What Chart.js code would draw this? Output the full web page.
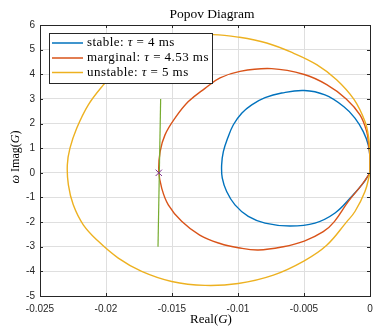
<!DOCTYPE html>
<html>
<head>
<meta charset="utf-8">
<script src="https://cdn.jsdelivr.net/npm/chart.js@4"></script>
<style>
  body { margin: 0; background: #fff; }
  canvas { display: block; }
</style>
</head>
<body>
<canvas id="popov" width="380" height="327"></canvas>
<script>
// series: Re(G) and w*Im(G)
const seriesNames = ['stable', 'marginal', 'unstable'];
const tauValues = ['4', '4.53', '5'];

const stableRe = [0, 0, -0.00013, -0.00051, -0.00114, -0.00202, -0.00341, -0.00498, -0.00669, -0.00795, -0.00896, -0.00972, -0.01035, -0.01078, -0.01111, -0.01124, -0.01119, -0.01086, -0.01023, -0.00922, -0.00795, -0.00606, -0.00417, -0.00265, -0.00139, -0.00051, 0];
const stableIm = [0, 0.6, 1.13, 1.67, 2.22, 2.7, 3.16, 3.34, 3.24, 3.05, 2.76, 2.42, 1.95, 1.41, 0.86, 0.32, -0.22, -0.76, -1.30, -1.77, -2.04, -2.16, -2.04, -1.63, -0.96, -0.42, 0];

const marginalRe = [0, 0, -0.0001, -0.00025, -0.00076, -0.0018, -0.00328, -0.00498, -0.00745, -0.00985, -0.01136, -0.0125, -0.01376, -0.01477, -0.01553, -0.0159, -0.016, -0.01578, -0.01528, -0.01427, -0.0129, -0.01136, -0.00998, -0.00846, -0.00657, -0.00498, -0.00354, -0.0027, -0.00164, -0.00063, 0];
const marginalIm = [0, 0.6, 1.13, 1.67, 2.35, 3.0, 3.58, 3.99, 4.23, 4.12, 3.85, 3.43, 2.89, 2.22, 1.54, 0.86, 0.05, -0.62, -1.30, -1.97, -2.53, -2.87, -3.04, -3.13, -3.0, -2.77, -2.39, -1.98, -1.16, -0.49, 0];

const unstableRe = [0, 0, -0.0001, -0.00038, -0.0012, -0.00253, -0.00404, -0.00581, -0.00783, -0.01, -0.01187, -0.0138, -0.0158, -0.0177, -0.0192, -0.0202, -0.02134, -0.02222, -0.02273, -0.02293, -0.02285, -0.02248, -0.02172, -0.02058, -0.01907, -0.0173, -0.01502, -0.0125, -0.00998, -0.00732, -0.00498, -0.00328, -0.00177, -0.00114, -0.00038, 0];
const unstableIm = [0, 0.6, 1.42, 2.08, 2.97, 3.78, 4.39, 4.86, 5.27, 5.51, 5.61, 5.55, 5.25, 4.75, 4.15, 3.57, 2.76, 1.81, 1.0, 0.32, -0.49, -1.30, -2.11, -2.78, -3.46, -4.0, -4.41, -4.57, -4.49, -4.15, -3.57, -2.94, -1.99, -1.57, -0.76, 0];

// Popov line and critical point
const popovRe = [-0.01606, -0.01586];
const popovIm = [-3, 3];
const critRe = [-0.016];
const critIm = [0];

const xTickValues = [-0.025, -0.02, -0.015, -0.01, -0.005, 0];
const xTickLabels = ['-0.025', '-0.02', '-0.015', '-0.01', '-0.005', '0'];
const yTickValues = [-5, -4, -3, -2, -1, 0, 1, 2, 3, 4, 5, 6];
const yTickLabels = ['-5', '-4', '-3', '-2', '-1', '0', '1', '2', '3', '4', '5', '6'];

const colors = ['#0072BD', '#D95319', '#EDB120'];
const SERIF = "'Liberation Serif', 'Times New Roman', serif";
const SANS = "'Liberation Sans', Arial, sans-serif";

function toPoints(re, im) {
    return re.map((v, i) => ({ x: v, y: im[i] }));
}

// draw text made of normal / italic pieces
function richText(ctx, parts, x, y, size, align, spacing) {
    const fontOf = it => (it ? 'italic ' : '') + size + 'px ' + SERIF;
    ctx.letterSpacing = (spacing || 0) + 'px';
    let w = 0;
    parts.forEach(p => { ctx.font = fontOf(p[1]); w += ctx.measureText(p[0]).width; });
    let cx = align === 'center' ? x - w / 2 : x;
    ctx.textAlign = 'left';
    parts.forEach(p => {
        ctx.font = fontOf(p[1]);
        ctx.fillText(p[0], cx, y);
        cx += ctx.measureText(p[0]).width;
    });
    ctx.letterSpacing = '0px';
}

const curves = [[stableRe, stableIm], [marginalRe, marginalIm], [unstableRe, unstableIm]];
const datasets = curves.map((c, i) => ({
    label: `${seriesNames[i]}: τ = ${tauValues[i]} ms`,
    data: toPoints(c[0], c[1]),
    showLine: true,
    borderColor: colors[i],
    borderWidth: 1.4,
    pointRadius: 0,
    tension: 0.4,
    order: 4 - i
}));
datasets.push({
    label: 'Popov line',
    data: toPoints(popovRe, popovIm),
    showLine: true,
    borderColor: '#77AC30',
    borderWidth: 1.2,
    pointRadius: 0,
    order: 1
});
datasets.push({
    label: 'critical',
    data: toPoints(critRe, critIm),
    showLine: false,
    pointStyle: 'crossRot',
    pointRadius: 4.5,
    borderColor: '#7E2F8E',
    borderWidth: 1,
    order: 0
});

const frame = {
    id: 'frame',
    afterDraw(chart) {
        const { ctx, chartArea: a, scales: { x, y } } = chart;
        ctx.save();
        ctx.strokeStyle = '#262626';
        ctx.lineWidth = 1;
        ctx.strokeRect(a.left + 0.5, a.top + 0.5, a.right - a.left, a.bottom - a.top);
        ctx.beginPath();
        xTickValues.forEach(v => {
            const px = Math.round(x.getPixelForValue(v)) + 0.5;
            ctx.moveTo(px, a.bottom); ctx.lineTo(px, a.bottom - 3);
            ctx.moveTo(px, a.top); ctx.lineTo(px, a.top + 3);
        });
        yTickValues.forEach(v => {
            const py = Math.round(y.getPixelForValue(v)) + 0.5;
            ctx.moveTo(a.left, py); ctx.lineTo(a.left + 3, py);
            ctx.moveTo(a.right, py); ctx.lineTo(a.right - 3, py);
        });
        ctx.stroke();

        // titles
        ctx.fillStyle = '#000';
        ctx.textBaseline = 'middle';
        richText(ctx, [['Popov Diagram', false]], 212, 14, 13.5, 'center');
        richText(ctx, [['Real(', false], ['G', true], [')', false]], 211, 320, 13, 'center');
        ctx.save();
        ctx.translate(16, 157);
        ctx.rotate(-Math.PI / 2);
        richText(ctx, [['ω', true], [' Imag(', false], ['G', true], [')', false]], 0, 0, 12, 'center');
        ctx.restore();

        // legend box inside the axes
        const lx = 49, ly = 33, lw = 163, lh = 50;
        ctx.fillStyle = '#fff';
        ctx.fillRect(lx, ly, lw, lh);
        ctx.strokeStyle = '#262626';
        ctx.strokeRect(lx + 0.5, ly + 0.5, lw, lh);
        const rows = [43, 58, 72.5];
        seriesNames.forEach((name, i) => {
            ctx.strokeStyle = colors[i];
            ctx.lineWidth = 1.5;
            ctx.beginPath();
            ctx.moveTo(52, rows[i]); ctx.lineTo(83, rows[i]);
            ctx.stroke();
            ctx.fillStyle = '#000';
            richText(ctx, [[name + ': ', false], ['τ', true], [' = ' + tauValues[i] + ' ms', false]], 87, rows[i], 13, 'left', 0.45);
        });
        ctx.restore();
    }
};

new Chart(document.getElementById('popov'), {
    type: 'scatter',
    data: { datasets: datasets },
    options: {
        responsive: false,
        animation: false,
        layout: { padding: { top: 25, right: 10, bottom: 0, left: 0 } },
        plugins: {
            legend: { display: false },
            tooltip: { enabled: false }
        },
        scales: {
            x: {
                min: -0.025,
                max: 0,
                afterBuildTicks: s => { s.ticks = xTickValues.map(v => ({ value: v })); },
                afterFit: s => { s.height = 31; },
                ticks: {
                    callback: (v, i) => xTickLabels[i],
                    font: { family: SANS, size: 10 },
                    color: '#262626',
                    padding: 7,
                    maxRotation: 0
                },
                grid: { color: '#dfdfdf', drawTicks: false },
                border: { display: false }
            },
            y: {
                min: -5,
                max: 6,
                afterBuildTicks: s => { s.ticks = yTickValues.map(v => ({ value: v })); },
                afterFit: s => { s.width = 40; },
                ticks: {
                    callback: (v, i) => yTickLabels[i],
                    font: { family: SANS, size: 10 },
                    color: '#262626',
                    padding: 5
                },
                grid: { color: '#dfdfdf', drawTicks: false },
                border: { display: false }
            }
        }
    },
    plugins: [frame]
});
</script>
</body>
</html>
